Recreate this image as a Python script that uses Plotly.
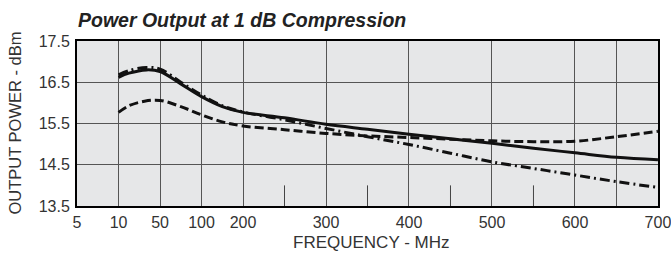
import numpy as np
import plotly.graph_objects as go

# Frequency axis is piecewise: 5..200 MHz compressed, 200..700 MHz linear
axis_break_freq = [5, 10, 50, 100, 200, 700]
axis_break_pos = [0, 0.5, 1.0, 1.5, 2.0, 7.0]

tick_freqs = [5, 10, 50, 100, 200, 300, 400, 500, 600, 650, 700]
tick_labels = ["5", "10", "50", "100", "200", "300", "400", "500", "600", "", "700"]
minor_tick_freqs = [250, 350, 450, 550]

y_ticks = [13.5, 14.5, 15.5, 16.5, 17.5]

freq_solid = [10, 20, 37, 50, 75, 100, 150, 200, 250, 300, 350, 400, 450, 500, 550, 600, 650, 700]
pout_solid = [16.62, 16.72, 16.80, 16.76, 16.46, 16.15, 15.91, 15.77, 15.64, 15.48, 15.36, 15.24,
              15.13, 15.02, 14.90, 14.79, 14.68, 14.62]

freq_dash = [10, 20, 35, 50, 75, 100, 150, 200, 250, 300, 350, 400, 450, 500, 550, 600, 650, 700]
pout_dash = [15.77, 15.93, 16.04, 16.06, 15.91, 15.71, 15.54, 15.44, 15.35, 15.26, 15.20, 15.16,
             15.12, 15.08, 15.06, 15.07, 15.18, 15.31]

freq_dashdot = [10, 20, 37, 50, 75, 100, 150, 200, 250, 300, 350, 400, 450, 500, 550, 600, 650, 700]
pout_dashdot = [16.68, 16.78, 16.86, 16.82, 16.50, 16.19, 15.93, 15.78, 15.59, 15.38, 15.18, 14.99,
                14.78, 14.57, 14.41, 14.25, 14.09, 13.95]


def fpos(f):
    return np.interp(np.asarray(f, dtype=float), axis_break_freq, axis_break_pos)


fig = go.Figure()

# short minor tick marks from the bottom up to 14.0
mx, my = [], []
for f in minor_tick_freqs:
    mx += [float(fpos(f)), float(fpos(f)), None]
    my += [13.5, 14.0, None]
fig.add_trace(go.Scatter(x=mx, y=my, mode="lines", line=dict(color="#444444", width=1),
                         hoverinfo="skip", showlegend=False))

fig.add_trace(go.Scatter(x=fpos(freq_dash), y=pout_dash, mode="lines",
                         line=dict(color="#111111", width=3, dash="9px,4px", shape="spline"),
                         showlegend=False))
fig.add_trace(go.Scatter(x=fpos(freq_dashdot), y=pout_dashdot, mode="lines",
                         line=dict(color="#111111", width=3, dash="10px,4px,2px,4px", shape="spline"),
                         showlegend=False))
fig.add_trace(go.Scatter(x=fpos(freq_solid), y=pout_solid, mode="lines",
                         line=dict(color="#111111", width=3, shape="spline"),
                         showlegend=False))

fig.update_layout(
    width=671, height=258,
    margin=dict(l=77, r=13, t=41, b=52, autoexpand=False),
    paper_bgcolor="white",
    plot_bgcolor="#e6e7e8",
    font=dict(family="Liberation Sans, Arial, sans-serif", color="#333333"),
    title=dict(text="<b><i>Power Output at 1 dB Compression</i></b>",
               font=dict(size=19.5, color="#222222"),
               x=78 / 671, xanchor="left", xref="container",
               y=1 - 20 / 258, yanchor="middle", yref="container"),
    xaxis=dict(range=[-0.0005, 7.0005], tickmode="array",
               tickvals=[float(v) for v in fpos(tick_freqs)], ticktext=tick_labels,
               showgrid=True, gridcolor="#555555", gridwidth=1,
               zeroline=False, showline=True, linecolor="black", linewidth=2, mirror=True,
               ticks="outside", ticklen=1, tickcolor="rgba(0,0,0,0)",
               ticklabeloverflow="allow", automargin=False,
               tickfont=dict(size=16)),
    yaxis=dict(range=[13.5, 17.5], tickmode="array", tickvals=y_ticks,
               ticktext=[f"{v:.1f}" for v in y_ticks],
               showgrid=True, gridcolor="#555555", gridwidth=1,
               zeroline=False, showline=True, linecolor="black", linewidth=2, mirror=True,
               ticks="outside", ticklen=2, tickcolor="rgba(0,0,0,0)", automargin=False,
               tickfont=dict(size=16)),
    annotations=[
        dict(text="OUTPUT POWER - dBm", textangle=-90, xref="paper", yref="paper",
             x=(14 - 77) / 581, y=0.5, xanchor="center", yanchor="middle",
             showarrow=False, font=dict(size=16.5, color="#333333")),
        dict(text="FREQUENCY - MHz", xref="paper", yref="paper",
             x=(371 - 77) / 581, y=(206 - 243) / 165, xanchor="center", yanchor="middle",
             showarrow=False, font=dict(size=17, color="#333333")),
    ],
)

fig.write_html("out.html", config={"displayModeBar": False},
               post_script="document.body.style.margin='0';")
